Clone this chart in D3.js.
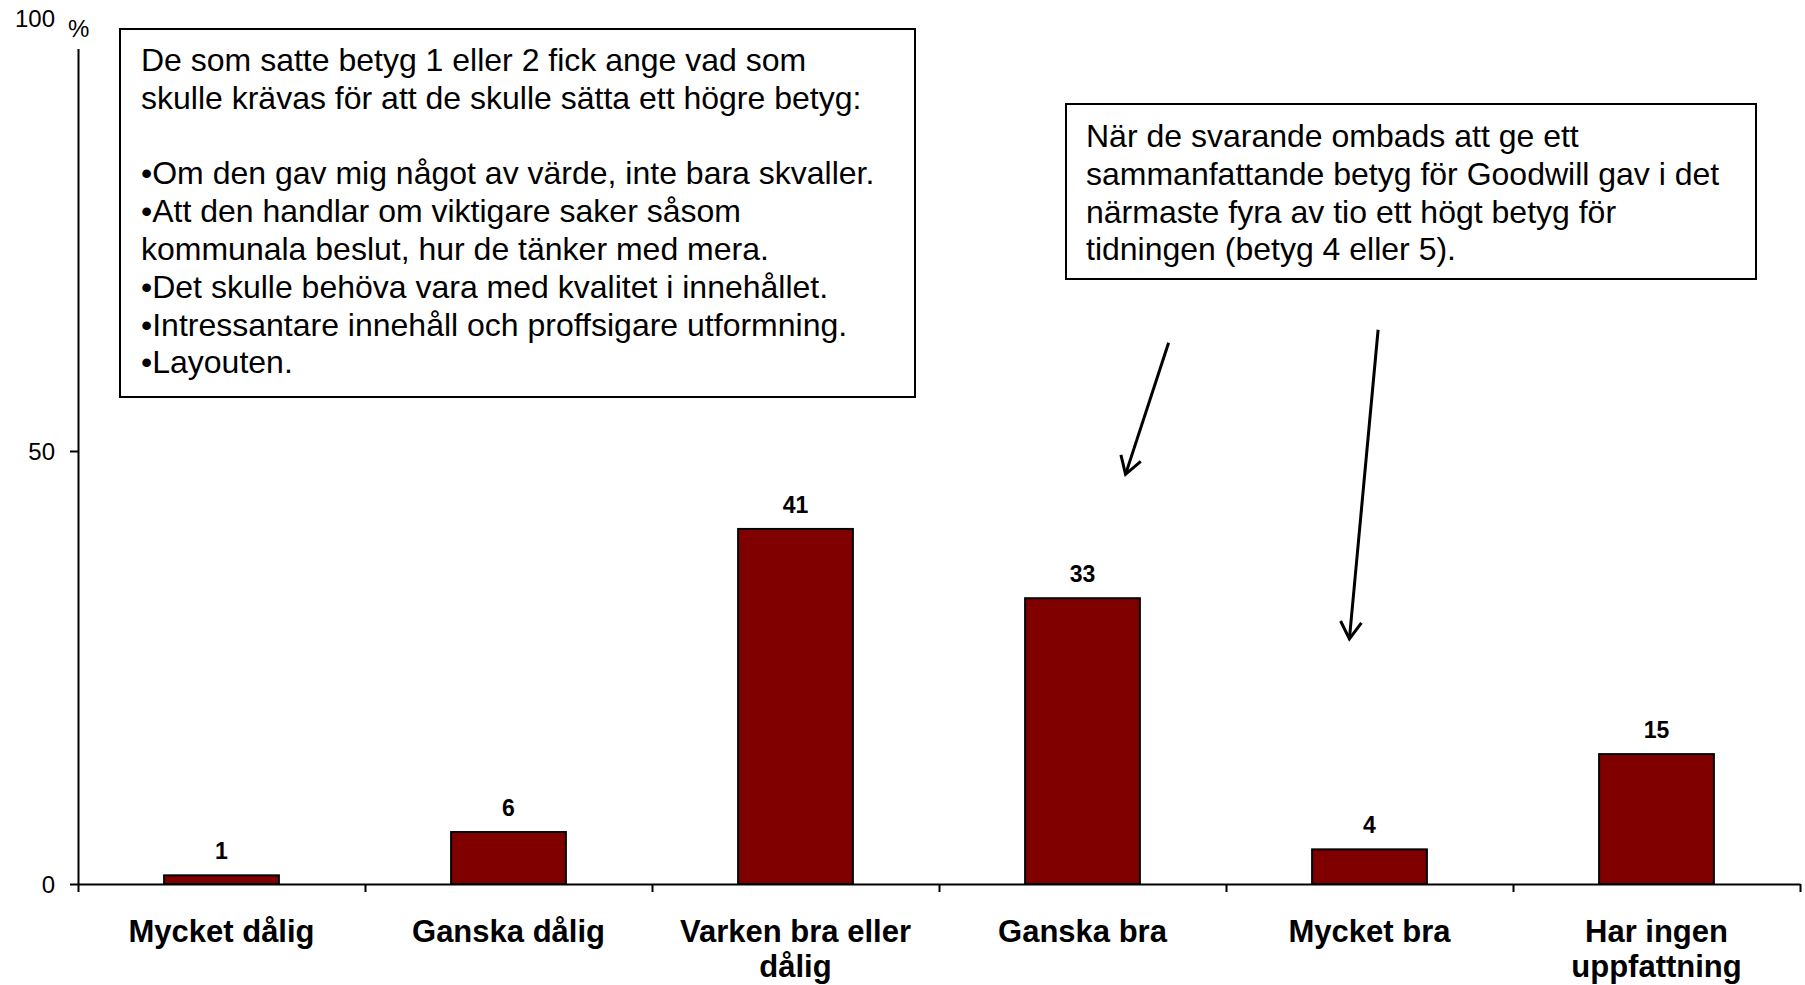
<!doctype html>
<html>
<head>
<meta charset="utf-8">
<script src="https://d3js.org/d3.v7.min.js"></script>
<style>
    body { margin: 0; background: #fff; }
    text { font-family: "Liberation Sans", Arial, sans-serif; }
</style>
</head>
<body>
<svg width="1805" height="985"></svg>
<script>

// data
var categories = ["Mycket dålig", "Ganska dålig", "Varken bra eller dålig", "Ganska bra", "Mycket bra", "Har ingen uppfattning"];
var labelLines = [["Mycket dålig"], ["Ganska dålig"], ["Varken bra eller", "dålig"], ["Ganska bra"], ["Mycket bra"], ["Har ingen", "uppfattning"]];
var values = [1, 6, 41, 33, 4, 15];
var yTicks = [0, 50, 100];

var leftNote = [
    "De som satte betyg 1 eller 2 fick ange vad som",
    "skulle krävas för att de skulle sätta ett högre betyg:",
    "",
    "•Om den gav mig något av värde, inte bara skvaller.",
    "•Att den handlar om viktigare saker såsom",
    "kommunala beslut, hur de tänker med mera.",
    "•Det skulle behöva vara med kvalitet i innehållet.",
    "•Intressantare innehåll och proffsigare utformning.",
    "•Layouten."
];
var rightNote = [
    "När de svarande ombads att ge ett",
    "sammanfattande betyg för Goodwill gav i det",
    "närmaste fyra av tio ett högt betyg för",
    "tidningen (betyg 4 eller 5)."
];
// arrows in chart units: [category position, value] start -> end
var arrows = [
    [[3.80, 62.5], [3.65, 47.3]],
    [[4.53, 64.0], [4.43, 28.3]]
];

var svg = d3.select("svg");
var plotLeft = 78, plotRight = 1800, plotTop = 18, plotBottom = 884;

var x = d3.scaleBand().domain(categories).range([plotLeft, plotRight])
    .paddingInner(0.6).paddingOuter(0.3);
var xPos = d3.scaleLinear().domain([0, categories.length]).range([plotLeft, plotRight]);
var y = d3.scaleLinear().domain([0, 100]).range([plotBottom, plotTop]);

// y axis
var yAxis = svg.append("g")
    .attr("transform", "translate(" + plotLeft + ",0)")
    .call(d3.axisLeft(y).tickValues(yTicks).tickSize(8).tickSizeOuter(0).tickPadding(15));
yAxis.select(".domain").attr("stroke", "#000").attr("stroke-width", 2);
yAxis.selectAll(".tick line").attr("stroke", "#000").attr("stroke-width", 2);
yAxis.selectAll(".tick text")
    .attr("font-family", "Liberation Sans, Arial, sans-serif")
    .attr("font-size", 24).attr("fill", "#000").attr("dy", "0.35em");

// cover top of axis with the % label box
svg.append("rect").attr("x", 62).attr("y", 0).attr("width", 40).attr("height", 49).attr("fill", "#fff");
svg.append("text").attr("x", 68).attr("y", 37).attr("font-size", 24).text("%");

// bars
svg.selectAll(".bar")
    .data(values)
    .enter().append("rect")
    .attr("class", "bar")
    .attr("x", function(d, i) { return x(categories[i]); })
    .attr("y", function(d) { return y(d); })
    .attr("width", x.bandwidth())
    .attr("height", function(d) { return y(0) - y(d); })
    .attr("fill", "#800000")
    .attr("stroke", "#000")
    .attr("stroke-width", 2);

svg.selectAll(".val")
    .data(values)
    .enter().append("text")
    .attr("class", "val")
    .attr("x", function(d, i) { return x(categories[i]) + x.bandwidth() / 2; })
    .attr("y", function(d) { return y(d) - 16; })
    .attr("text-anchor", "middle")
    .attr("font-size", 23)
    .attr("font-weight", "bold")
    .text(function(d) { return d; });

// x axis
var xAxis = svg.append("g")
    .attr("transform", "translate(0," + plotBottom + ")")
    .call(d3.axisBottom(xPos).tickValues(d3.range(categories.length + 1)).tickFormat("").tickSize(8).tickSizeOuter(0));
xAxis.select(".domain").attr("stroke", "#000").attr("stroke-width", 2);
xAxis.selectAll(".tick line").attr("stroke", "#000").attr("stroke-width", 2);

var cat = svg.selectAll(".cat")
    .data(labelLines)
    .enter().append("text")
    .attr("class", "cat")
    .attr("text-anchor", "middle")
    .attr("font-size", 31)
    .attr("font-weight", "bold");
cat.selectAll("tspan")
    .data(function(d, i) { return d.map(function(t) { return [t, i]; }); })
    .enter().append("tspan")
    .attr("x", function(d) { return x(categories[d[1]]) + x.bandwidth() / 2; })
    .attr("y", function(d, j) { return 942 + j * 35; })
    .text(function(d) { return d[0]; });

// note boxes
function noteBox(x0, y0, w, h, lines, tx, ty) {
    svg.append("rect").attr("x", x0).attr("y", y0).attr("width", w).attr("height", h)
        .attr("fill", "#fff").attr("stroke", "#000").attr("stroke-width", 2);
    var t = svg.append("text").attr("font-size", 32);
    t.selectAll("tspan").data(lines).enter().append("tspan")
        .attr("x", tx)
        .attr("y", function(d, i) { return ty + i * 37.8; })
        .text(function(d) { return d; });
}
noteBox(120, 29, 795, 368, leftNote, 141, 71);
noteBox(1066, 104, 690, 175, rightNote, 1086, 147);

// arrows
arrows.forEach(function(a) {
    var x1 = xPos(a[0][0]), y1 = y(a[0][1]), x2 = xPos(a[1][0]), y2 = y(a[1][1]);
    svg.append("line").attr("x1", x1).attr("y1", y1).attr("x2", x2).attr("y2", y2)
        .attr("stroke", "#000").attr("stroke-width", 3);
    var ang = Math.atan2(y2 - y1, x2 - x1), len = 20, spread = 0.55;
    var p = [
        [x2 - len * Math.cos(ang - spread), y2 - len * Math.sin(ang - spread)],
        [x2, y2],
        [x2 - len * Math.cos(ang + spread), y2 - len * Math.sin(ang + spread)]
    ];
    svg.append("path").attr("d", d3.line()(p))
        .attr("fill", "none").attr("stroke", "#000").attr("stroke-width", 3);
});
</script>
</body>
</html>
